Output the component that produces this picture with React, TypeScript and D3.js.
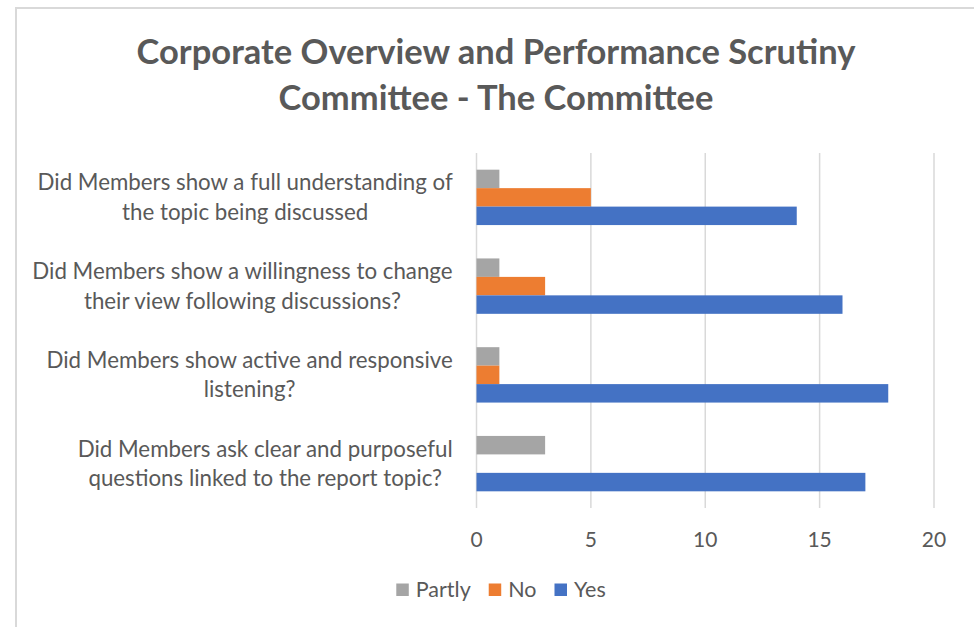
import React from "react";
import * as d3 from "d3";

const titleLines = ["Corporate Overview and Performance Scrutiny", "Committee - The Committee"];
const categories = [
  ["Did Members show a full understanding of", "the topic being discussed"],
  ["Did Members show a willingness to change", "their view following discussions?"],
  ["Did Members show active and responsive", "listening?"],
  ["Did Members ask clear and purposeful", "questions linked to the report topic?"],
];
const seriesNames = ["Partly", "No", "Yes"];
const seriesColors = ["#A5A5A5", "#ED7D31", "#4472C4"];
const partly = [1, 1, 1, 3];
const no = [5, 3, 1, 0];
const yes = [14, 16, 18, 17];
const xTicks = [0, 5, 10, 15, 20];

const FONT = "Lato, 'Open Sans', sans-serif";
const TEXT = "#595959";

function measure(text: string, font: string): number {
  const c = document.createElement("canvas");
  const ctx = c.getContext("2d")!;
  ctx.font = font;
  return ctx.measureText(text).width;
}

export default function App() {
  const W = 974, H = 627;
  const left = 476.5, right = 934, top = 153, bottom = 508;
  const x = d3.scaleLinear().domain([0, 20]).range([left, right]);
  const keys = categories.map((c) => c.join(" "));
  const y = d3.scaleBand().domain(keys).range([top, bottom]).paddingInner(0.376).paddingOuter(0.188);
  const ys = d3.scaleBand().domain(seriesNames).range([0, y.bandwidth()]);
  const values = [partly, no, yes];

  const catFontSize = 22.3;
  const catFont = `${catFontSize}px Lato`;
  const labelRight = 453;

  const legendItems = seriesNames.map((n, i) => ({ n, c: seriesColors[i] }));
  const legSize = 21.5;
  const legFont = `${legSize}px Lato`;
  const sq = 12.5, gapSq = 7, gapItem = 18;
  const widths = legendItems.map((it) => sq + gapSq + measure(it.n, legFont));
  const totalLeg = d3.sum(widths) + gapItem * (legendItems.length - 1);
  const legStarts: number[] = [];
  widths.reduce((acc, w) => {
    legStarts.push(acc);
    return acc + w + gapItem;
  }, 501 - totalLeg / 2);

  return (
    <svg width={W} height={H} style={{ position: "absolute", left: 0, top: 0, background: "#fff" }}>
      <rect x={16} y={8} width={W + 10} height={H + 10} fill="#fff" stroke="#D9D9D9" strokeWidth={2} />
      {titleLines.map((t, i) => (
        <text key={i} x={496} y={64 + i * 46} textAnchor="middle" fontFamily={FONT} fontWeight={700} fontSize={34.5} fill={TEXT}>
          {t}
        </text>
      ))}
      {xTicks.map((t) => (
        <line key={t} x1={x(t)} x2={x(t)} y1={top} y2={bottom} stroke="#D9D9D9" strokeWidth={1.5} />
      ))}
      {categories.map((cat, ci) => {
        const key = keys[ci];
        return seriesNames.map((s, si) => {
          const v = values[si][ci];
          if (!v) return null;
          return (
            <rect
              key={key + s}
              x={x(0)}
              y={(y(key) as number) + (ys(s) as number)}
              width={x(v) - x(0)}
              height={ys.bandwidth()}
              fill={seriesColors[si]}
            />
          );
        });
      })}
      {categories.map((cat, ci) => {
        const key = keys[ci];
        const maxW = d3.max(cat, (l) => measure(l, catFont)) as number;
        const cx = labelRight - maxW / 2;
        const cy = (y(key) as number) + y.bandwidth() / 2;
        const lh = 29.5;
        return cat.map((l, li) => (
          <text
            key={key + li}
            x={cx}
            y={cy - ((cat.length - 1) * lh) / 2 + li * lh}
            dy="0.35em"
            textAnchor="middle"
            fontFamily={FONT}
            fontSize={catFontSize}
            fill={TEXT}
          >
            {l}
          </text>
        ));
      })}
      {xTicks.map((t) => (
        <text key={"t" + t} x={x(t)} y={547} textAnchor="middle" fontFamily={FONT} fontSize={21} fill={TEXT}>
          {t}
        </text>
      ))}
      {legendItems.map((it, i) => {
        const x0 = legStarts[i];
        return (
          <g key={it.n}>
            <rect x={x0} y={583.5} width={sq} height={sq} fill={it.c} />
            <text x={x0 + sq + gapSq} y={596.5} fontFamily={FONT} fontSize={legSize} fill={TEXT}>
              {it.n}
            </text>
          </g>
        );
      })}
    </svg>
  );
}
